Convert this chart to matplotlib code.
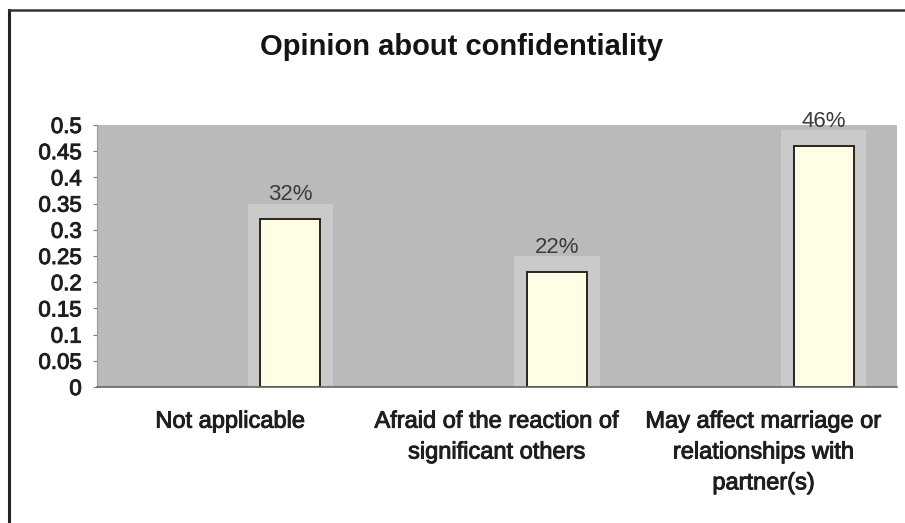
import matplotlib
matplotlib.use("Agg")
import matplotlib.pyplot as plt
import matplotlib.patheffects as pe
from matplotlib.lines import Line2D

categories = ["Not applicable",
              "Afraid of the reaction of\nsignificant others",
              "May affect marriage or\nrelationships with\npartner(s)"]
values = [0.32, 0.22, 0.46]
value_labels = ["32%", "22%", "46%"]
yticks = [0, 0.05, 0.1, 0.15, 0.2, 0.25, 0.3, 0.35, 0.4, 0.45, 0.5]
ytick_labels = ["0", "0.05", "0.1", "0.15", "0.2", "0.25", "0.3", "0.35", "0.4", "0.45", "0.5"]
title = "Opinion about confidentiality"

FONT = "Liberation Sans"
heavy = [pe.withStroke(linewidth=0.7, foreground="#1e1e1e")]

fig = plt.figure(figsize=(9.05, 5.23), dpi=100)
fig.patch.set_facecolor("white")
ax = fig.add_axes([0.1072, 0.26, 0.884, 0.501])
ax.set_facecolor("#bababa")

x = list(range(len(categories)))
bar_offset = 0.225
bar_w = 0.225
bar_x = [i + bar_offset for i in x]

# lighter backdrop behind each bar
ax.bar(bar_x, [v + 0.03 for v in values], width=0.32, color="#cacaca",
       edgecolor="none", zorder=1)
ax.bar(bar_x, values, width=bar_w, color="#fffde6", edgecolor="#2a2420",
       linewidth=1.4, zorder=2)

for bx, v, lab in zip(bar_x, values, value_labels):
    ax.annotate(lab, (bx, v), xytext=(0, 19), textcoords="offset pixels",
                ha="center", va="baseline", fontsize=16, color="#3c3c3c",
                family=FONT)

ax.set_xlim(-0.5, 2.5)
ax.set_ylim(0, 0.5)
ax.set_yticks(yticks)
ax.set_yticklabels(ytick_labels, family=FONT, fontsize=16, color="#1e1e1e")
ax.set_xticks(x)
ax.set_xticklabels(categories, family=FONT, fontsize=17, color="#1e1e1e",
                   linespacing=1.52)
for t in ax.get_yticklabels() + ax.get_xticklabels():
    t.set_path_effects(heavy)
ax.tick_params(axis="y", length=3, width=0.8, color="#777777", pad=8)
ax.tick_params(axis="x", length=0, pad=17)
for s in ["top", "right"]:
    ax.spines[s].set_visible(False)
ax.spines["left"].set_color("#999999")
ax.spines["bottom"].set_color("#666666")
ax.spines["bottom"].set_linewidth(1.2)

fig.text(0.510, 0.910, title, ha="center", va="center", fontsize=21,
         fontweight="bold", family=FONT, color="#141414")

# outer chart frame
fig.add_artist(Line2D([0.010, 0.010], [0.0, 0.981], color="#222222",
                      linewidth=2.2, transform=fig.transFigure))
fig.add_artist(Line2D([0.010, 1.0], [0.981, 0.981], color="#333333",
                      linewidth=1.8, transform=fig.transFigure))

fig.savefig("out.png", dpi=100, facecolor="white")
